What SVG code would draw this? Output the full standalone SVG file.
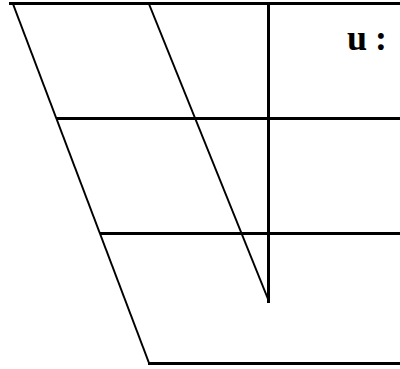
<svg xmlns="http://www.w3.org/2000/svg" width="400" height="369" viewBox="0 0 400 369">
<style>
.h{stroke:#000;stroke-width:3;fill:none}
.s{stroke:#000;stroke-width:2;fill:none}
.t{font-family:"Liberation Serif",serif;font-size:36px;font-weight:bold;fill:#000;letter-spacing:8px}
</style>
<rect width="400" height="369" fill="#fff"/>
<g id="connectors">
<line class="h" x1="9" y1="3.5" x2="400" y2="3.5"/>
<line class="h" x1="56" y1="118.5" x2="400" y2="118.5"/>
<line class="h" x1="100" y1="233.5" x2="400" y2="233.5"/>
<line class="h" x1="148" y1="363.5" x2="400" y2="363.5"/>
<line class="h" x1="268.5" y1="3" x2="268.5" y2="303"/>
<line class="s" x1="13" y1="4" x2="149" y2="363"/>
<line class="s" x1="149" y1="4" x2="268" y2="299"/>
</g>
<g id="label-u">
<text class="t" x="347" y="50">u:</text>
</g>
</svg>
